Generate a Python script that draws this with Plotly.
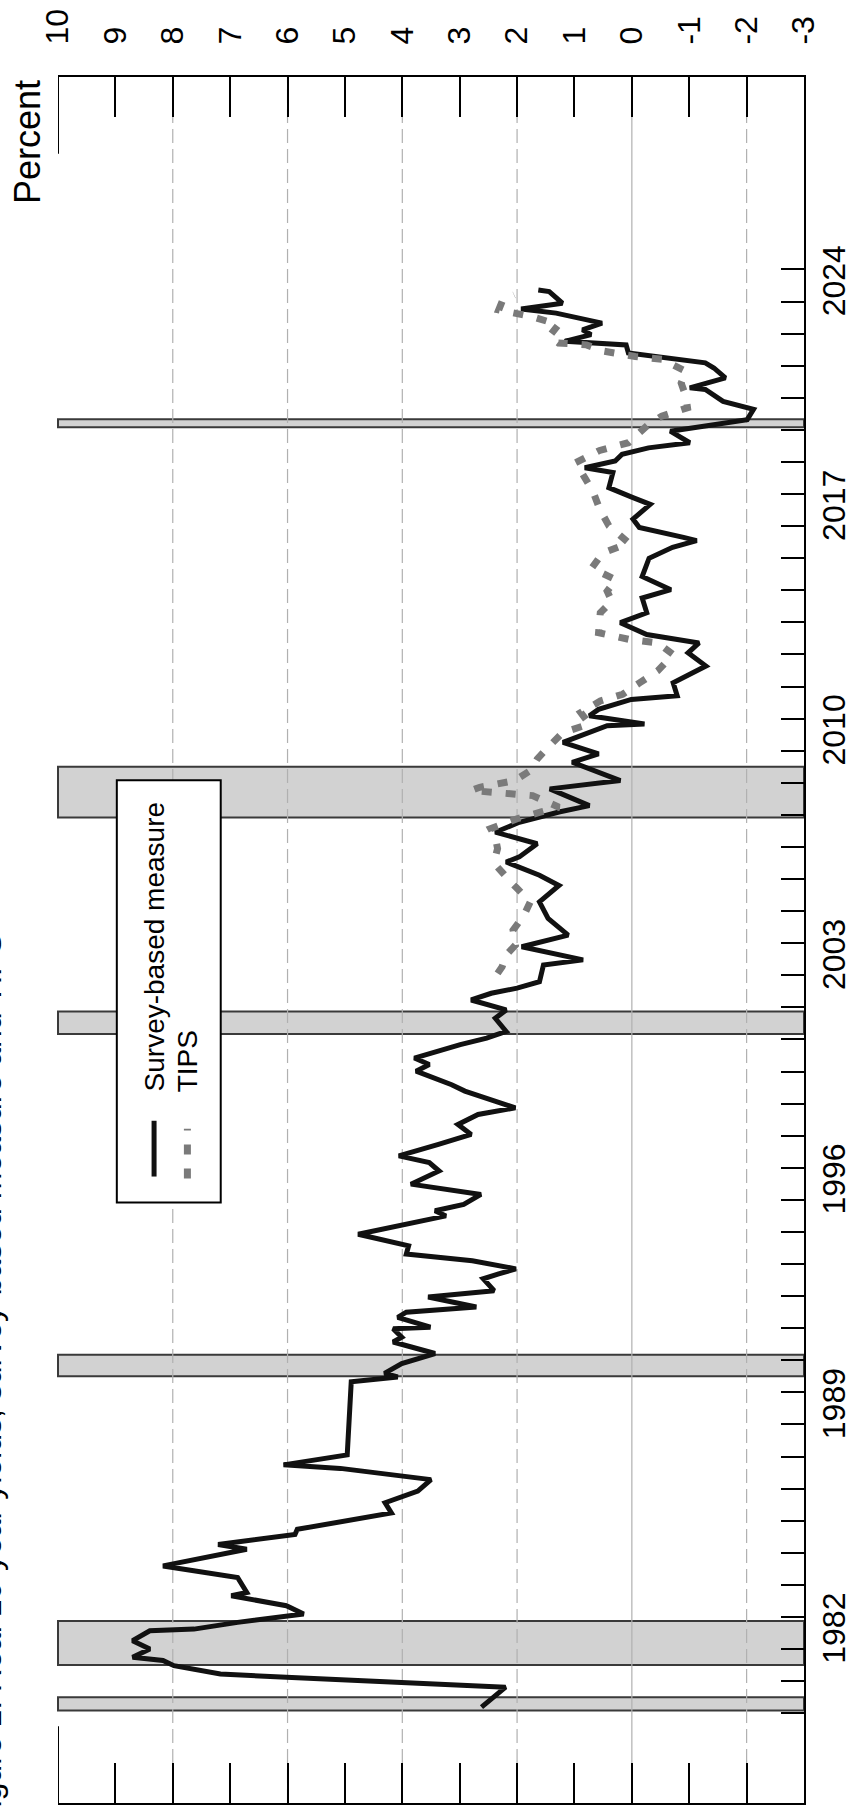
import plotly.graph_objects as go

# ---------------- data (decimal year, percent) ----------------
survey_year = [1980.19, 1980.81, 1981.12, 1981.22, 1981.48, 1981.64, 1981.74, 1982.00, 1982.26, 1982.57,
               1982.62, 1982.83, 1983.09, 1983.35, 1983.66, 1983.76, 1984.23, 1984.54, 1984.59, 1985.11,
               1985.26, 1985.57, 1985.73, 1986.24, 1986.56, 1986.92, 1987.28, 1987.63, 1987.74, 1988.05,
               1990.33, 1990.48, 1990.59, 1990.90, 1991.21, 1991.57, 1991.72, 1991.98, 1992.03, 1992.34,
               1992.50, 1992.66, 1992.97, 1993.17, 1993.54, 1993.69, 1993.85, 1994.10, 1994.31, 1994.57,
               1994.93, 1995.50, 1995.66, 1995.86, 1996.17, 1996.49, 1996.90, 1997.16, 1997.37, 1997.73,
               1998.04, 1998.35, 1998.66, 1998.87, 1999.39, 1999.59, 2000.01, 2000.22, 2000.42, 2000.84,
               2001.04, 2001.25, 2001.66, 2001.92, 2002.23, 2002.44, 2002.60, 2002.80, 2003.32, 2003.48,
               2003.89, 2004.25, 2004.77, 2005.29, 2005.80, 2006.12, 2006.53, 2006.69, 2007.10, 2007.46,
               2007.77, 2008.09, 2008.29, 2008.81, 2009.07, 2009.64, 2009.90, 2010.26, 2010.78, 2010.83,
               2011.09, 2011.29, 2011.60, 2011.71, 2012.12, 2012.64, 2013.05, 2013.36, 2013.62, 2013.99,
               2014.30, 2014.76, 2015.02, 2015.43, 2016.00, 2016.34, 2016.55, 2016.65, 2016.96, 2017.22,
               2017.68, 2017.89, 2018.20, 2018.67, 2018.82, 2019.03, 2019.24, 2019.44, 2019.60, 2019.96,
               2020.32, 2020.64, 2020.89, 2021.26, 2021.31, 2021.62, 2021.93, 2022.09, 2022.24, 2022.40,
               2022.65, 2022.76, 2022.97, 2023.12, 2023.33, 2023.64, 2023.77, 2023.95, 2024.31, 2024.36]
survey_val = [2.62, 2.20, 6.02, 7.17, 7.98, 8.17, 8.70, 8.40, 8.70, 8.40,
              7.63, 6.87, 5.72, 6.02, 6.98, 6.71, 6.87, 7.98, 8.17, 6.71,
              7.21, 5.87, 5.83, 4.19, 4.30, 3.73, 3.50, 5.08, 6.07, 4.96,
              4.89, 4.08, 4.31, 4.01, 3.43, 4.16, 4.01, 4.16, 3.51, 4.08,
              3.93, 2.71, 3.55, 2.40, 2.59, 2.32, 2.02, 2.78, 3.93, 3.89,
              4.77, 3.24, 3.43, 2.93, 2.63, 3.85, 3.36, 3.53, 4.06, 3.37,
              2.80, 3.03, 2.68, 2.03, 2.91, 3.14, 3.76, 3.53, 3.79, 2.99,
              2.53, 2.19, 2.38, 2.19, 2.80, 2.45, 2.00, 1.61, 1.54, 0.85,
              1.92, 1.11, 1.46, 1.61, 1.27, 1.61, 2.19, 1.96, 1.65, 2.38,
              1.96, 1.27, 0.74, 1.43, 0.20, 1.04, 0.58, 1.20, 0.43, -0.22,
              0.74, 0.58, 0.01, -0.79, -0.72, -1.29, -0.98, -1.17, -0.26, 0.20,
              -0.26, -0.18, -0.68, -0.18, -0.30, -0.71, -1.13, -0.90, -0.13, -0.02,
              -0.32, -0.02, 0.40, 0.33, 0.82, 0.29, 0.17, -0.29, -1.01, -0.67,
              -2.01, -2.12, -1.59, -1.28, -1.01, -1.63, -1.43, -1.28, -0.59, 0.06,
              0.10, 1.17, 0.71, 0.86, 0.52, 1.32, 1.93, 1.21, 1.44, 1.63]

tips_year = [2003.06, 2003.27, 2003.63, 2003.94, 2004.41, 2004.87, 2005.29, 2005.60, 2005.91, 2006.37,
             2006.68, 2006.95, 2007.31, 2007.57, 2007.88, 2008.09, 2008.24, 2008.60, 2008.76, 2008.86,
             2009.07, 2009.38, 2009.74, 2010.16, 2010.57, 2010.83, 2011.19, 2011.55, 2011.76, 2012.12,
             2012.49, 2013.00, 2013.36, 2013.47, 2013.68, 2014.30, 2014.66, 2014.97, 2015.33, 2015.69,
             2016.16, 2016.47, 2017.01, 2017.53, 2018.05, 2018.51, 2018.98, 2019.36, 2019.60, 2020.17,
             2020.43, 2020.69, 2021.05, 2021.46, 2021.83, 2022.03, 2022.19, 2022.29, 2022.45, 2022.65,
             2022.71, 2022.91, 2023.28, 2023.53, 2023.74, 2024.05, 2024.21]
tips_val = [2.34, 2.26, 2.19, 2.03, 2.07, 1.88, 1.77, 1.96, 2.11, 2.34,
            2.38, 2.34, 2.38, 2.46, 2.00, 1.58, 1.27, 1.73, 2.80, 2.65,
            2.04, 1.77, 1.65, 1.43, 1.20, 0.74, 0.89, 0.55, 0.16, -0.14,
            -0.45, -0.72, -0.45, 0.05, 0.58, 0.55, 0.35, 0.43, 0.28, 0.70,
            0.51, 0.05, 0.40, 0.56, 0.67, 0.82, 0.98, 0.56, 0.06, -0.29,
            -0.52, -0.97, -0.94, -0.86, -0.94, -0.71, -0.59, -0.06, 0.48, 0.79,
            1.28, 1.44, 1.28, 1.74, 2.32, 2.25, 2.05]

rec_start = [1980.08, 1981.50, 1990.50, 2001.17, 2007.92, 2020.08]
rec_end = [1980.50, 1982.87, 1991.17, 2001.87, 2009.50, 2020.33]

pct_ticks = list(range(10, -4, -1))
grid_vals = [8, 6, 4, 2, 0, -2]
year_ticks = list(range(1980, 2026))
year_labels = [1982, 1989, 1996, 2003, 2010, 2017, 2024]
legend_labels = ["Survey-based measure", "TIPS"]
title_text = "Figure 1: Real 10-year yields, survey-based measure and TIPS"

# ---------------- layout helpers ----------------
W, H = 861, 1814
M = dict(l=58, r=42, t=72, b=9)
PW = W - M['l'] - M['r']
PH = H - M['t'] - M['b']


def fx(px):
    return (px - M['l']) / PW


def fy(py):
    return (H - M['b'] - py) / PH


FONT = "Liberation Sans, Arial, Helvetica, sans-serif"
t_range = [1977.2, 2031.0]
BLACK = '#111111'
GRAY = '#7a7a7a'
TIPS_DASH = '10px,14px'

fig = go.Figure()
fig.add_trace(go.Scatter(x=survey_val, y=survey_year, mode='lines',
                         line=dict(color=BLACK, width=5), name=legend_labels[0],
                         showlegend=False, xaxis='x', yaxis='y', hoverinfo='skip'))
fig.add_trace(go.Scatter(x=tips_val, y=tips_year, mode='lines',
                         line=dict(color=GRAY, width=7, dash=TIPS_DASH), name=legend_labels[1],
                         showlegend=False, xaxis='x', yaxis='y2', hoverinfo='skip'))

# recession bands
for s, e in zip(rec_start, rec_end):
    fig.add_shape(type='rect', xref='paper', x0=0, x1=1, yref='y', y0=s, y1=e,
                  fillcolor='#d2d2d2', line=dict(color='#3a3a3a', width=2), layer='below')
# grid lines
for g in grid_vals:
    fig.add_shape(type='line', xref='x', x0=g, x1=g, yref='paper', y0=0, y1=1,
                  line=dict(color='#b0b0b0', width=1.2, dash='solid' if g == 0 else '14px,6px'),
                  layer='below')
# longer end ticks at 10
fig.add_shape(type='line', xref='x', x0=pct_ticks[0], x1=pct_ticks[0], yref='paper',
              y0=1, y1=1 - 77 / PH, line=dict(color='black', width=2))
fig.add_shape(type='line', xref='x', x0=pct_ticks[0], x1=pct_ticks[0], yref='paper',
              y0=0, y1=77 / PH, line=dict(color='black', width=2))

# legend (rotated, drawn by hand)
fig.add_shape(type='rect', xref='paper', yref='paper', x0=fx(118), x1=fx(224), y0=fy(1202), y1=fy(778),
              fillcolor='white', line=dict(color='black', width=2), layer='above')
fig.add_shape(type='line', xref='paper', yref='paper', x0=fx(156), x1=fx(156), y0=fy(1176), y1=fy(1120),
              line=dict(color=BLACK, width=5), layer='above')
fig.add_shape(type='line', xref='paper', yref='paper', x0=fx(190), x1=fx(190), y0=fy(1178), y1=fy(1128),
              line=dict(color=GRAY, width=7, dash=TIPS_DASH), layer='above')
fig.add_annotation(text=legend_labels[0], textangle=-90, xref='paper', yref='paper', x=fx(156), y=fy(1093),
                   xanchor='center', yanchor='bottom', showarrow=False, font=dict(size=28, color='black'))
fig.add_annotation(text=legend_labels[1], textangle=-90, xref='paper', yref='paper', x=fx(190), y=fy(1093),
                   xanchor='center', yanchor='bottom', showarrow=False, font=dict(size=28, color='black'))

# "Percent" unit label and (cut-off) title
fig.add_annotation(text="Percent", textangle=-90, xref='paper', yref='paper', x=fx(27), y=fy(202),
                   xanchor='center', yanchor='bottom', showarrow=False, font=dict(size=36, color='black'))
fig.add_annotation(text=title_text, textangle=-90, xref='paper', yref='paper', x=fx(-12), y=fy(1380),
                   xanchor='center', yanchor='middle', showarrow=False, font=dict(size=32, color='black'))

fig.update_layout(
    width=W, height=H, margin=M, paper_bgcolor='white', plot_bgcolor='white', showlegend=False,
    font=dict(family=FONT, color='black'),
    xaxis=dict(range=[pct_ticks[0], pct_ticks[-1]], side='top', tickmode='array', tickvals=pct_ticks,
               ticktext=[str(v) for v in pct_ticks], ticks='inside', ticklen=40, tickwidth=2,
               tickcolor='black', showline=True, linewidth=2, linecolor='black', mirror='ticks',
               showgrid=False, zeroline=False, tickangle=-90, tickfont=dict(size=32),
               ticklabelstandoff=24, fixedrange=True),
    yaxis=dict(range=t_range, side='right', tickmode='array', tickvals=year_ticks, showticklabels=False,
               ticks='inside', ticklen=23, tickwidth=2, tickcolor='black', showline=True, linewidth=2,
               linecolor='black', mirror=False, showgrid=False, zeroline=False, fixedrange=True),
    yaxis2=dict(range=t_range, overlaying='y', side='right', tickmode='array',
                tickvals=[y + 0.5 for y in year_labels], ticktext=[str(y) for y in year_labels],
                ticks='', showline=False, showgrid=False, zeroline=False, tickangle=-90,
                tickfont=dict(size=32), ticklabelstandoff=8, fixedrange=True),
)

fig.write_html("out.html")
